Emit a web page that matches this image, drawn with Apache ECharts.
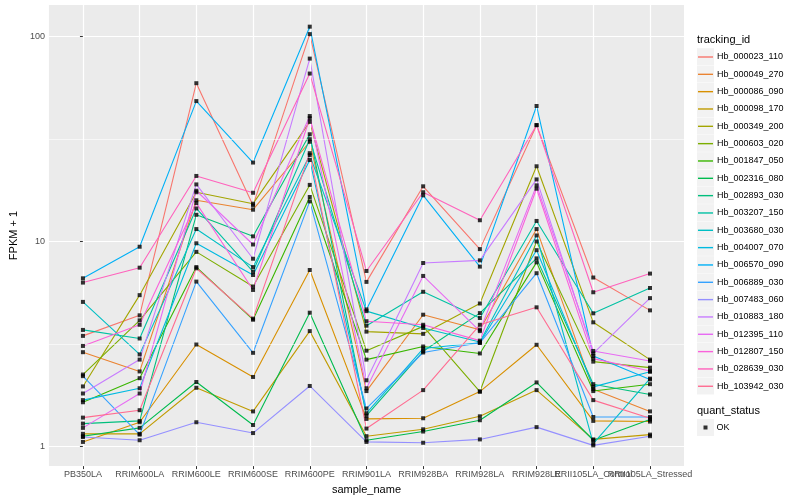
<!DOCTYPE html>
<html><head><meta charset="utf-8">
<script src="https://cdn.jsdelivr.net/npm/echarts@6/dist/echarts.min.js"></script>
<style>html,body{margin:0;padding:0;background:#fff}#c{width:800px;height:500px}</style>
</head><body><div id="c"></div>
<script>
const categories = ['PB350LA','RRIM600LA','RRIM600LE','RRIM600SE','RRIM600PE','RRIM901LA','RRIM928BA','RRIM928LA','RRIM928LE','RRII105LA_Control','RRII105LA_Stressed'];
const trackingIds = ['Hb_000023_110','Hb_000049_270','Hb_000086_090','Hb_000098_170','Hb_000349_200','Hb_000603_020','Hb_001847_050','Hb_002316_080','Hb_002893_030','Hb_003207_150','Hb_003680_030','Hb_004007_070','Hb_006570_090','Hb_006889_030','Hb_007483_060','Hb_010883_180','Hb_012395_110','Hb_012807_150','Hb_028639_030','Hb_103942_030'];
const colors = ['#F8766D','#EA8331','#D89000','#C09B00','#A3A500','#7CAE00','#39B600','#00BB4E','#00BF7D','#00C1A3','#00BFC4','#00BAE0','#00B0F6','#35A2FF','#9590FF','#C77CFF','#E76BF3','#FA62DB','#FF62BC','#FF6C91'];
const yTicks = [1, 10, 100];
const yMinorTicks = [3.162, 31.62];

const hb000023_110 = [3.46, 4.36, 59.3, 15.0, 103, 6.35, 18.6, 9.18, 37.0, 6.67, 4.61];
const hb000049_270 = [2.88, 2.32, 15.9, 14.3, 30.7, 1.86, 4.39, 3.71, 11.5, 1.90, 1.48];
const hb000086_090 = [1.05, 1.31, 3.14, 2.18, 7.26, 1.36, 1.37, 1.85, 3.13, 1.33, 1.32];
const hb000098_170 = [1.15, 1.15, 1.93, 1.48, 3.65, 1.12, 1.21, 1.40, 1.88, 1.08, 1.14];
const hb000349_200 = [1.96, 5.47, 17.4, 15.3, 38.4, 3.63, 3.54, 4.98, 23.3, 4.03, 2.65];
const hb000603_020 = [2.24, 4.12, 8.9, 6.03, 18.9, 2.93, 3.85, 1.85, 10.0, 2.59, 2.42];
const hb001847_050 = [1.64, 2.15, 7.5, 4.15, 16.5, 2.65, 3.07, 2.84, 7.91, 1.86, 2.01];
const hb002316_080 = [1.12, 1.23, 2.06, 1.27, 4.49, 1.07, 1.18, 1.34, 2.05, 1.07, 1.35];
const hb002893_030 = [1.29, 1.33, 13.5, 10.6, 33.4, 1.41, 2.91, 4.47, 8.27, 2.01, 1.79];
const hb003207_150 = [3.70, 3.36, 14.5, 7.13, 31.6, 3.88, 5.68, 4.23, 12.6, 4.46, 5.93];
const hb003680_030 = [5.07, 2.81, 11.5, 7.50, 26.4, 4.57, 3.78, 3.23, 10.7, 1.03, 2.14];
const hb004007_070 = [1.68, 1.92, 9.8, 6.86, 25.0, 1.45, 3.00, 3.20, 9.07, 1.95, 2.31];
const hb006570_090 = [6.61, 9.43, 48.5, 24.3, 112, 4.66, 16.8, 7.54, 45.9, 2.76, 2.12];
const hb006889_030 = [2.20, 1.14, 6.37, 2.86, 15.7, 1.53, 2.87, 3.20, 7.00, 1.39, 1.39];
const hb007483_060 = [1.11, 1.07, 1.31, 1.16, 1.97, 1.05, 1.04, 1.08, 1.24, 1.01, 1.12];
const hb010883_180 = [1.81, 2.65, 19.0, 8.24, 78.2, 2.10, 7.85, 8.09, 20.1, 2.84, 5.29];
const hb012395_110 = [1.23, 1.81, 17.7, 9.67, 41.0, 1.92, 6.79, 3.65, 18.8, 2.92, 2.61];
const hb012807_150 = [3.09, 3.92, 15.4, 5.80, 40.0, 4.08, 3.92, 3.28, 18.1, 2.68, 2.33];
const hb028639_030 = [6.30, 7.45, 20.9, 17.3, 66.1, 7.18, 17.4, 12.7, 37.0, 5.65, 6.97];
const hb103942_030 = [1.38, 1.50, 7.4, 4.20, 27.0, 1.22, 1.88, 3.92, 4.77, 1.68, 1.37];

const seriesValues = [hb000023_110, hb000049_270, hb000086_090, hb000098_170, hb000349_200, hb000603_020, hb001847_050, hb002316_080, hb002893_030, hb003207_150, hb003680_030, hb004007_070, hb006570_090, hb006889_030, hb007483_060, hb010883_180, hb012395_110, hb012807_150, hb028639_030, hb103942_030];

const FONT = '"Liberation Sans", Arial, Helvetica, sans-serif';
const catIdx = categories.map((c, i) => i);
// labels split over two axes so the overlapping neighbours are both drawn, as in the reference
const labelIdxA = catIdx.filter(i => i !== 9);
const labelIdxB = [9];

const chart = echarts.init(document.getElementById('c'), null, {renderer: 'canvas'});

const series = [];
series.push({
  type: 'scatter', name: '_grid', data: [], z: 1, silent: true, legendHoverLink: false,
  markLine: {
    silent: true, symbol: 'none', animation: false, label: {show: false},
    data: catIdx.map(i => ({xAxis: i, lineStyle: {color: '#FFFFFF', width: 1.2, type: 'solid'}}))
      .concat(yMinorTicks.map(v => ({yAxis: v, lineStyle: {color: '#FFFFFF', width: 0.6, type: 'solid'}})))
  }
});
trackingIds.forEach((id, k) => {
  series.push({
    type: 'line', name: id, symbol: 'none', z: 3,
    data: seriesValues[k].map((v, i) => [i, v]),
    lineStyle: {color: colors[k], width: 1.1},
    itemStyle: {color: colors[k]},
    emphasis: {disabled: true}, animation: false
  });
});
const okPoints = [];
seriesValues.forEach(arr => arr.forEach((v, i) => okPoints.push([i, v])));
series.push({
  type: 'scatter', name: 'OK', data: okPoints, symbol: 'rect', symbolSize: 4, z: 5,
  itemStyle: {color: '#000000'}, animation: false
});

const graphics = [
  {type: 'text', left: 697, top: 34, style: {text: 'tracking_id', font: '11px ' + FONT, fill: '#000'}},
  {type: 'text', left: 697, top: 405, style: {text: 'quant_status', font: '11px ' + FONT, fill: '#000'}},
  {type: 'rect', shape: {x: 697, y: 419, width: 17, height: 17}, style: {fill: '#F2F2F2'}, z: -1}
];
trackingIds.forEach((id, k) => {
  graphics.push({type: 'rect', shape: {x: 697, y: 48.2 + k * 17.33, width: 17, height: 17}, style: {fill: '#F2F2F2'}, z: -1});
});

const xLabelStyle = {fontSize: 9, color: '#4D4D4D', margin: 4, hideOverlap: false, showMinLabel: true, showMaxLabel: true, fontFamily: FONT,
  formatter: v => categories[Math.round(v)] || ''};

chart.setOption({
  animation: false,
  backgroundColor: '#FFFFFF',
  textStyle: {fontFamily: FONT},
  grid: {left: 40, right: 116, top: 5, bottom: 31, show: true, backgroundColor: '#EBEBEB', borderWidth: 0},
  xAxis: [
    {
      type: 'value', min: -0.6, max: 10.6, position: 'bottom',
      name: 'sample_name', nameLocation: 'middle', nameGap: 14,
      nameTextStyle: {fontSize: 11, color: '#000', fontFamily: FONT},
      axisLine: {show: false},
      splitLine: {show: false},
      axisTick: {show: true, customValues: catIdx, length: 3, lineStyle: {color: '#333333', width: 1}},
      axisLabel: Object.assign({customValues: labelIdxA}, xLabelStyle)
    },
    {
      type: 'value', min: -0.6, max: 10.6, position: 'bottom', offset: 0,
      axisLine: {show: false},
      splitLine: {show: false},
      axisTick: {show: false},
      axisLabel: Object.assign({customValues: labelIdxB}, xLabelStyle)
    }
  ],
  yAxis: {
    type: 'log', logBase: 10, min: 0.8, max: 142.9,
    name: 'FPKM + 1', nameLocation: 'middle', nameGap: 24, nameRotate: 90,
    nameTextStyle: {fontSize: 11, color: '#000', fontFamily: FONT},
    axisLine: {show: false},
    splitLine: {show: true, lineStyle: {color: '#FFFFFF', width: 1.2}},
    minorSplitLine: {show: false},
    axisTick: {show: true, customValues: yTicks, length: 3, lineStyle: {color: '#333333', width: 1}},
    axisLabel: {customValues: yTicks, formatter: v => String(v), fontSize: 9, color: '#4D4D4D', margin: 4, showMinLabel: true, showMaxLabel: true, fontFamily: FONT}
  },
  legend: [
    {
      data: trackingIds.map(n => ({name: n, icon: 'rect'})), orient: 'vertical', left: 698, top: 51, padding: 0,
      itemWidth: 15, itemHeight: 1.4, itemGap: 5.33,
      selectedMode: false,
      textStyle: {fontSize: 9, color: '#000', lineHeight: 12, height: 12, fontFamily: FONT, padding: [0, 0, 0, -1]}
    },
    {
      data: [{name: 'OK', icon: 'rect'}], orient: 'vertical', left: 703.5, top: 421.5, padding: 0,
      itemWidth: 4, itemHeight: 4, selectedMode: false,
      textStyle: {fontSize: 9, color: '#000', lineHeight: 12, fontFamily: FONT, padding: [0, 0, 0, 4]}
    }
  ],
  graphic: graphics,
  series: series
});
</script></body></html>
